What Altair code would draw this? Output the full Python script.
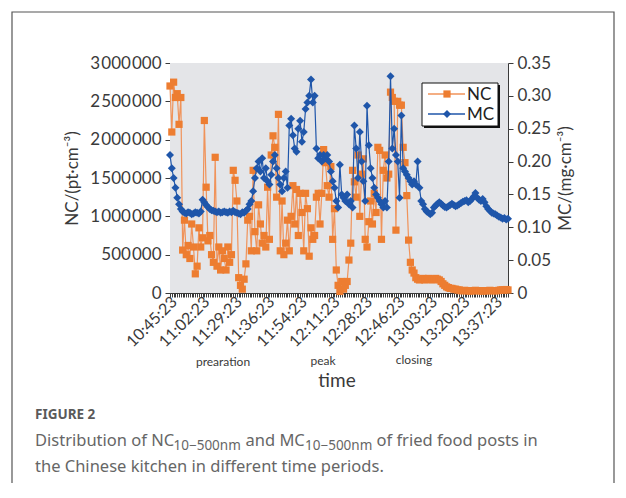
import json
import altair as alt
import pandas as pd

# ---------------- data ----------------
time_labels = ["10:45:23", "11:02:23", "11:29:23", "11:36:23", "11:54:23", "12:11:23",
               "12:28:23", "12:46:23", "13:03:23", "13:20:23", "13:37:23"]
label_step = 18

# NC (number concentration), in millions of pt/cm3
nc_million = [
    2.7, 2.1, 2.75, 2.55, 2.6, 2.2, 2.55,
    0.56,
    0.95, 0.5, 0.62, 0.45, 0.9, 0.6, 0.25, 0.35, 0.85,
    0.6, 0.72, 2.25, 1.38, 0.68,
    0.75, 0.5, 0.4,
    1.77,
    0.35, 0.6, 0.3, 0.55, 0.45, 0.3, 0.6, 0.4,
    0.5, 1.6, 1.47, 1.2,
    0.2, 0.1, 0.05, 0.18,
    0.38, 0.95, 1.0, 0.55,
    1.6,
    0.8, 0.55, 1.15, 0.9,
    0.65, 0.75, 0.6, 1.38,
    0.7, 1.8, 2.05, 1.9, 1.25,
    2.33,
    0.55, 1.2, 0.5, 0.65,
    0.95, 0.55, 1.0,
    1.4, 0.9, 1.35,
    0.75, 1.3, 1.05, 0.55, 1.3,
    1.1, 0.48, 0.85,
    0.7, 0.75, 1.25, 1.3, 0.9,
    1.3, 1.87, 1.7, 1.4, 1.25, 1.65, 0.7, 1.1, 0.3, 0.1,
    0.02, 0.15, 0.05, 0.1,
    0.15, 0.43, 0.65,
    1.6, 1.45, 1.25, 1.8,
    1.0, 1.55, 1.75,
    0.7, 0.6, 0.93, 1.2,
    0.9, 1.3, 1.05,
    1.9, 1.86,
    0.7, 1.6, 1.8, 1.5,
    1.55,
    2.62, 2.55, 2.5,
    0.82,
    2.5, 2.45, 2.45,
    1.9,
    1.7, 1.27,
    0.69,
    0.4, 0.3, 0.26,
    0.2, 0.18, 0.17, 0.18, 0.19, 0.17, 0.18, 0.19, 0.18, 0.17, 0.18, 0.19, 0.18,
    0.17, 0.15, 0.12, 0.1,
    0.08, 0.07, 0.06, 0.06, 0.05, 0.05, 0.04, 0.04,
    0.03, 0.03, 0.035, 0.03, 0.03, 0.025, 0.03, 0.03, 0.035, 0.03, 0.03, 0.03,
    0.025, 0.03, 0.03, 0.03, 0.035, 0.03, 0.03, 0.03, 0.03, 0.035, 0.04, 0.04,
    0.04, 0.045, 0.04,
]

# MC (mass concentration), mg/cm3
mc = [
    0.21, 0.19, 0.175, 0.16, 0.145, 0.135, 0.128,
    0.124, 0.122, 0.121, 0.123, 0.122, 0.120, 0.121, 0.123, 0.122, 0.121, 0.124,
    0.142, 0.138,
    0.134, 0.131, 0.128, 0.126, 0.125, 0.124, 0.123, 0.124, 0.122, 0.123, 0.124, 0.123,
    0.122, 0.124, 0.123, 0.125, 0.123, 0.122, 0.121, 0.120, 0.123, 0.122, 0.125,
    0.128, 0.135, 0.140, 0.155, 0.175,
    0.19, 0.20, 0.185, 0.205, 0.175, 0.19, 0.17, 0.165, 0.18, 0.2, 0.21, 0.19, 0.175,
    0.165, 0.155, 0.175, 0.185, 0.16,
    0.255, 0.265, 0.24, 0.22, 0.215,
    0.25, 0.262, 0.23, 0.245, 0.28,
    0.29, 0.30, 0.325, 0.29, 0.30,
    0.22, 0.205, 0.21, 0.20, 0.21, 0.205, 0.21, 0.20,
    0.185, 0.17, 0.16, 0.14, 0.13, 0.195,
    0.15, 0.145, 0.14, 0.15, 0.135, 0.14, 0.13,
    0.255, 0.22, 0.175, 0.245, 0.2,
    0.17, 0.14, 0.285, 0.225, 0.19,
    0.175, 0.16, 0.15, 0.145, 0.14, 0.135, 0.13,
    0.14, 0.13, 0.2,
    0.33, 0.22, 0.25, 0.21, 0.2,
    0.145, 0.27, 0.19,
    0.185, 0.18, 0.175, 0.17, 0.165, 0.17,
    0.165, 0.2,
    0.16, 0.14, 0.135, 0.128, 0.124, 0.122, 0.12, 0.122,
    0.13, 0.133, 0.136, 0.138, 0.136, 0.133, 0.131, 0.130, 0.132, 0.134, 0.136, 0.134,
    0.132, 0.133, 0.135,
    0.137, 0.139, 0.14, 0.141, 0.138, 0.14, 0.143, 0.147, 0.152, 0.145, 0.142, 0.14,
    0.143, 0.138, 0.132, 0.128,
    0.125, 0.122, 0.121, 0.12, 0.118, 0.116, 0.115, 0.113,
    0.114, 0.112, 0.113,
]

nc_ticks = [0, 500000, 1000000, 1500000, 2000000, 2500000, 3000000]
mc_ticks = [0, 0.05, 0.10, 0.15, 0.20, 0.25, 0.30, 0.35]

# caption pieces (main text, subscript, main, subscript, main)
caption_l1 = ["Distribution of NC", "10−500nm", "and MC", "10−500nm", "of fried food posts in"]
caption_l2 = "the Chinese kitchen in different time periods."

N = max(len(nc_million), len(mc))
df_nc = pd.DataFrame({"i": list(range(len(nc_million))), "nc": [v * 1e6 for v in nc_million]})
df_mc = pd.DataFrame({"i": list(range(len(mc))), "mc": mc})
one = pd.DataFrame({"k": [0]})

# ---------------- style ----------------
ORANGE = "#ED7D31"
ORANGE_LINE = "#F0935A"
BLUE = "#1F56AA"
AX = "#3a3a3a"
FONT = "Lato"
CAP_FONT = "Noto Sans"
CAP_COL = "#666666"

W, H = 338, 230

label_expr = ("datum.value % {s} == 0 ? {arr}[round(datum.value / {s})] : ''"
              .format(s=label_step, arr=json.dumps(time_labels).replace('"', "'")))

x_scale = alt.Scale(domain=[0, N - 1], nice=False, zero=False)
x_axis = alt.Axis(values=list(range(N)), labelExpr=label_expr, title=None,
                  labelAngle=315, labelAlign="right", labelBaseline="middle",
                  labelFontSize=16, labelFont=FONT, labelColor=AX, labelPadding=2,
                  labelOffset=4, labelOverlap=False, labelFlush=False, labelBound=False,
                  tickSize=4, tickColor=AX, tickWidth=1, domainColor=AX, grid=False)

nc_expr = ("datum.value == 0 ? '0' : replace(replace(format(datum.value, ','), ',', '\u200a'), ',', '\u200a')")
y_nc_axis = alt.Axis(values=nc_ticks, labelExpr=nc_expr, title="NC/(pt·cm⁻³)",
                     orient="left", grid=False, labelFontSize=17, labelFont=FONT,
                     labelColor=AX, tickSize=5, tickColor=AX, domainColor=AX,
                     labelPadding=4, titleFont=FONT, titleFontSize=17, titleColor=AX,
                     titleFontWeight="normal", titleX=-98, titleY=H / 2,
                     titleBaseline="middle", titleAlign="center", titleAngle=270)
mc_expr = "datum.value == 0 ? '0' : format(datum.value, '.2f')"
y_mc_axis = alt.Axis(values=mc_ticks, labelExpr=mc_expr, title="MC/(mg·cm⁻³)",
                     orient="right", grid=False, labelFontSize=17, labelFont=FONT,
                     labelColor=AX, tickSize=5, tickColor=AX, domainColor=AX,
                     labelPadding=4, titleFont=FONT, titleFontSize=17, titleColor=AX,
                     titleFontWeight="normal", titleX=57, titleY=H / 2,
                     titleBaseline="middle", titleAlign="center", titleAngle=270)


# ---------------- helpers ----------------
def txt(s, x, y, size, color=AX, font=FONT, weight="normal", align="left", baseline="middle"):
    return alt.Chart(one).mark_text(text=s, align=align, baseline=baseline, fontSize=size,
                                    font=font, color=color, fontWeight=weight).encode(
        x=alt.value(x), y=alt.value(y))


def box(x1, x2, y1, y2, fill, stroke="transparent", sw=0):
    return alt.Chart(one).mark_rect(fill=fill, stroke=stroke, strokeWidth=sw).encode(
        x=alt.value(x1), x2=alt.value(x2), y=alt.value(y1), y2=alt.value(y2))


# ---------------- series ----------------
nc_base = alt.Chart(df_nc).encode(
    x=alt.X("i:Q", scale=x_scale, axis=x_axis),
    y=alt.Y("nc:Q", scale=alt.Scale(domain=[0, 3000000], nice=False), axis=y_nc_axis),
)
nc_layer = alt.layer(
    nc_base.mark_line(color=ORANGE_LINE, strokeWidth=1.2),
    nc_base.mark_point(shape="square", filled=True, size=52, color=ORANGE, opacity=1),
)

mc_base = alt.Chart(df_mc).encode(
    x=alt.X("i:Q", scale=x_scale, axis=x_axis),
    y=alt.Y("mc:Q", scale=alt.Scale(domain=[0, 0.35], nice=False), axis=y_mc_axis),
)
mc_layer = alt.layer(
    mc_base.mark_line(color=BLUE, strokeWidth=1.2),
    mc_base.mark_point(shape="diamond", filled=True, size=64, color=BLUE, opacity=1),
)

# ---------------- annotations ----------------
frame = alt.Chart(one).mark_rect(fill="transparent", stroke="#555555", strokeWidth=1.2).encode(
    x=alt.value(-158), x2=alt.value(444), y=alt.value(-51), y2=alt.value(460))

plot_bg = box(0, W, 0, H, "#E4E5E8")

legend = alt.layer(
    box(254, 330, 22, 65, "#111111"),
    box(252, 328, 20, 63, "white", "#111111", 1),
    alt.Chart(one).mark_rule(color=ORANGE_LINE, strokeWidth=1.5).encode(
        x=alt.value(258), x2=alt.value(295), y=alt.value(31)),
    alt.Chart(one).mark_point(shape="square", filled=True, size=52, color=ORANGE, opacity=1).encode(
        x=alt.value(277), y=alt.value(31)),
    alt.Chart(one).mark_rule(color=BLUE, strokeWidth=1.5).encode(
        x=alt.value(258), x2=alt.value(295), y=alt.value(51)),
    alt.Chart(one).mark_point(shape="diamond", filled=True, size=64, color=BLUE, opacity=1).encode(
        x=alt.value(277), y=alt.value(51)),
    txt("NC", 297, 32, 17, "#222222"),
    txt("MC", 297, 52, 17, "#222222"),
)

# caption line 1 laid out piece by piece (main 16.5px, subscripts 13.5px)
CX = -135
M, S = 16.5, 13.5
B1 = 383  # baseline of line 1
l1 = alt.layer(
    txt(caption_l1[0], CX, B1, M, CAP_COL, CAP_FONT, baseline="alphabetic"),
    txt(caption_l1[1], CX + 138.5, B1 + 3.5, S, CAP_COL, CAP_FONT, baseline="alphabetic"),
    txt(caption_l1[2], CX + 210.5, B1, M, CAP_COL, CAP_FONT, baseline="alphabetic"),
    txt(caption_l1[3], CX + 270, B1 + 3.5, S, CAP_COL, CAP_FONT, baseline="alphabetic"),
    txt(caption_l1[4], CX + 341.5, B1, M, CAP_COL, CAP_FONT, baseline="alphabetic"),
)

notes = alt.layer(
    txt("prearation", 53, 299, 12, align="center"),
    txt("peak", 153, 298, 12, align="center"),
    txt("closing", 244, 297, 12, align="center"),
    txt("time", 167, 318, 19, align="center"),
    txt("FIGURE 2", CX, 352, 13.5, "#5a5a5a", CAP_FONT, "bold"),
    l1,
    txt(caption_l2, CX, B1 + 26, M, CAP_COL, CAP_FONT, baseline="alphabetic"),
)

chart = alt.layer(frame, plot_bg, nc_layer, mc_layer, legend, notes).resolve_scale(
    y="independent"
).properties(
    width=W, height=H,
    padding={"left": 162, "top": 55, "right": 110, "bottom": 190},
    autosize=alt.AutoSizeParams(type="none"),
).configure_view(
    stroke="transparent"
).configure(background="white")

chart.save("out.html", embed_options={"renderer": "svg", "actions": False})
